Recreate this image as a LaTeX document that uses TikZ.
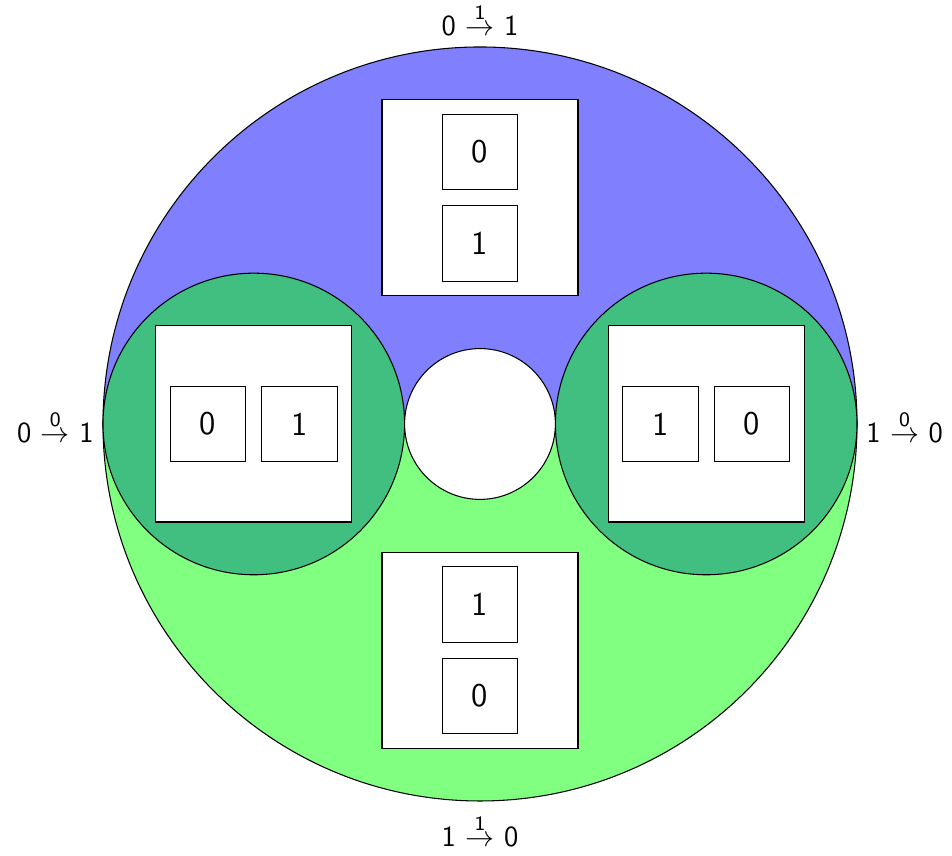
\documentclass[tikz,border=0pt]{standalone}
\usepackage{amsmath}
\usepackage{tikz}
\usetikzlibrary{positioning}

\definecolor{overlapgreen}{RGB}{64,191,128}

\begin{document}
\begin{tikzpicture}[
    cell/.style={draw, fill=white, minimum size=1cm, inner sep=0pt, font=\sffamily\fontsize{12.5}{15}\selectfont},
    frame/.style={draw, fill=white, minimum size=2.6cm, inner sep=0pt},
    edgelabel/.style={font=\sffamily\fontsize{11}{13}\selectfont}
]
\useasboundingbox (-6.366,-5.729) rectangle (6.26,5.623);

% outer disc, two halves
\fill[blue!50] (5,0) arc (0:180:5) -- cycle;
\fill[green!50] (-5,0) arc (180:360:5) -- cycle;
\draw (0,0) circle (5);

% side discs and hole
\draw[fill=overlapgreen] (-3,0) circle (2);
\draw[fill=overlapgreen] (3,0) circle (2);
\draw[fill=white] (0,0) circle (1);

% top
\node[frame] (top) at (0,3) {};
\node[cell, above=0.1cm of top.center] (top0) {0};
\node[cell, below=0.1cm of top.center] (top1) {1};

% bottom
\node[frame] (bot) at (0,-3) {};
\node[cell, above=0.1cm of bot.center] (bot1) {1};
\node[cell, below=0.1cm of bot.center] (bot0) {0};

% left
\node[frame] (left) at (-3,0) {};
\node[cell, left=0.1cm of left.center] (left0) {0};
\node[cell, right=0.1cm of left.center] (left1) {1};

% right
\node[frame] (right) at (3,0) {};
\node[cell, left=0.1cm of right.center] (right1) {1};
\node[cell, right=0.1cm of right.center] (right0) {0};

% transition labels
\node[edgelabel, anchor=base] (ltop) at (0,5.15) {0 $\stackrel{\textsf{1}}{\to}$ 1};
\node[edgelabel, anchor=base] (lbot) at (0,-5.61) {1 $\stackrel{\textsf{1}}{\to}$ 0};
\node[edgelabel, anchor=base east] (lleft) at (-5,-0.25) {0 $\stackrel{\textsf{0}}{\to}$ 1};
\node[edgelabel, anchor=base west] (lright) at (5,-0.25) {1 $\stackrel{\textsf{0}}{\to}$ 0};
\end{tikzpicture}
\end{document}
